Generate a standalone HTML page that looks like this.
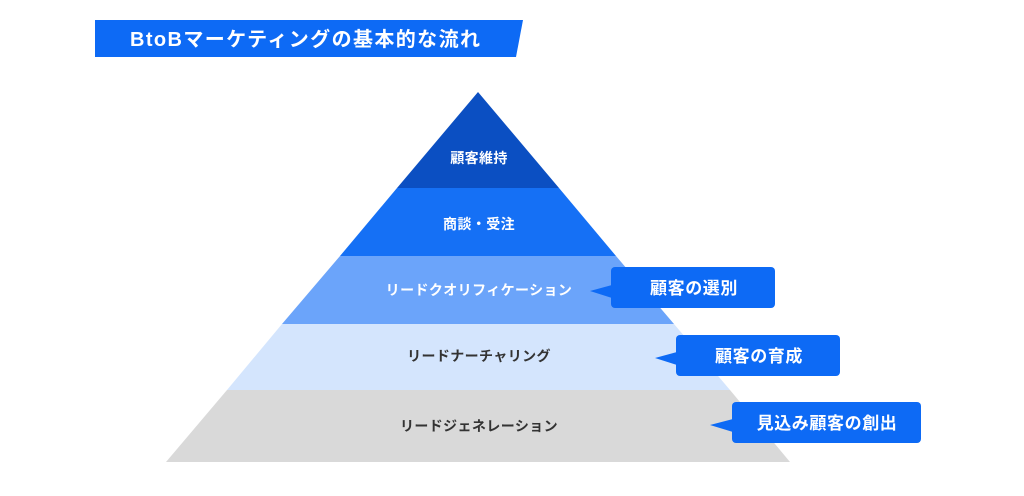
<!DOCTYPE html>
<html><head><meta charset="utf-8"><style>
body{margin:0;width:1024px;height:491px;background:#fff;overflow:hidden}
svg text{font-family:"Liberation Sans","Noto Sans CJK JP",sans-serif;font-weight:bold}
</style></head><body>
<svg width="1024" height="491" viewBox="0 0 1024 491">
<polygon points="95,20 523,20 516,57 95,57" fill="#0d6af5"/>
<text x="130" y="46" font-size="20" fill="#fff" letter-spacing="1.4">BtoBマーケティングの基本的な流れ</text>
<polygon points="478,92 559,188 397,188" fill="#0b4fc2"/>
<polygon points="397,188 559,188 616,256 340,256" fill="#1570f5"/>
<polygon points="340,256 616,256 674,324 282,324" fill="#6ba4fa"/>
<polygon points="282,324 674,324 730,390 227,390" fill="#d4e5fd"/>
<polygon points="227,390 730,390 790,462 166,462" fill="#d9d9d9"/>
<g font-size="14" text-anchor="middle" letter-spacing="0.4">
<text x="479" y="163" fill="#fff">顧客維持</text>
<text x="479" y="229" fill="#fff">商談・受注</text>
<text x="479" y="295" fill="#fff">リードクオリフィケーション</text>
<text x="479" y="361" fill="#333">リードナーチャリング</text>
<text x="479" y="431" fill="#333">リードジェネレーション</text>
</g>
<g fill="#0d6af5">
<rect x="611" y="267" width="164" height="41" rx="4"/><polygon points="590,291 612,285 612,298"/>
<rect x="676" y="335" width="164" height="41" rx="4"/><polygon points="655,358 677,352 677,365"/>
<rect x="732" y="402" width="189" height="41" rx="4"/><polygon points="710,425 733,419 733,432"/>
</g>
<g font-size="17" fill="#fff" text-anchor="middle" letter-spacing="0.6">
<text x="694" y="294">顧客の選別</text>
<text x="759" y="362">顧客の育成</text>
<text x="827" y="429">見込み顧客の創出</text>
</g>
</svg>
</body></html>
